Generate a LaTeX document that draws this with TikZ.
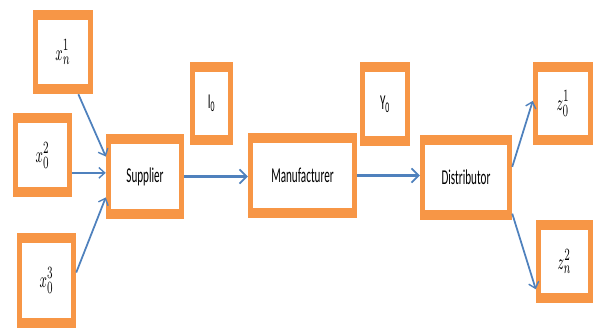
\documentclass[tikz,border=0pt]{standalone}
\usepackage{fontspec}
\setmainfont{Carlito}
\usetikzlibrary{arrows.meta}

\definecolor{boxorange}{RGB}{247,150,70}
\definecolor{arrowblue}{RGB}{79,129,189}

\newcommand{\tall}[1]{\scalebox{1}[1.9]{#1}}
\newcommand{\tallmath}[1]{\scalebox{1.2}[2.1]{#1}}

\tikzset{
  chainbox/.style={fill=boxorange, inner sep=0pt,
    font=\fontsize{9.5}{11}\selectfont,
    path picture={\fill[white] ([shift={(0.15cm,0.3cm)}]path picture bounding box.south west)
      rectangle ([shift={(-0.15cm,-0.3cm)}]path picture bounding box.north east);}},
  flow/.style={draw=arrowblue, line width=2.5pt, -{Straight Barb[length=6pt,width=12pt,line width=1.5pt]}},
  thinflow/.style={draw=arrowblue, line width=1.5pt, -{Straight Barb[length=5pt,width=9pt,line width=1.2pt]}}
}

\begin{document}
\begin{tikzpicture}[x=0.03cm,y=-0.03cm]

\useasboundingbox (0,0) rectangle (593,329);

\node[chainbox, minimum width=60*0.03cm, minimum height=84*0.03cm] (x1) at (63,52) {\tallmath{$x_n^1$}};
\node[chainbox, minimum width=59*0.03cm, minimum height=84*0.03cm] (x2) at (42.5,155) {\tallmath{$x_0^2$}};
\node[chainbox, minimum width=59*0.03cm, minimum height=95*0.03cm] (x3) at (46.5,280.5) {\tallmath{$x_0^3$}};

\node[chainbox, minimum width=78*0.03cm, minimum height=85*0.03cm] (sup) at (145,176.5) {\tall{Supplier}};
\node[chainbox, minimum width=43*0.03cm, minimum height=83*0.03cm] (io) at (211.5,103.5) {\tall{I\textsubscript{0}}};
\node[chainbox, minimum width=109*0.03cm, minimum height=85*0.03cm] (man) at (302.5,175.5) {\tall{Manufacturer}};
\node[chainbox, minimum width=50*0.03cm, minimum height=84*0.03cm] (yo) at (385,104) {\tall{Y\textsubscript{0}}};
\node[chainbox, minimum width=92*0.03cm, minimum height=85*0.03cm] (dis) at (466,177.5) {\tall{Distributor}};

\node[chainbox, minimum width=60*0.03cm, minimum height=83*0.03cm] (z1) at (563,103.5) {\tallmath{$z_0^1$}};
\node[chainbox, minimum width=57*0.03cm, minimum height=83*0.03cm] (z2) at (564.5,261.5) {\tallmath{$z_n^2$}};

\draw[thinflow] (x1.-70) -- (sup.153);
\draw[thinflow] (x2.-31) -- (x2.-31 -| sup.west);
\draw[thinflow] (x3.15) -- (sup.208);

\draw[flow] (sup.east) -- (sup.east -| man.west);
\draw[flow] (man.east) -- (man.east -| dis.west);

\draw[thinflow] (dis.13) -- (z1.175);
\draw[thinflow] (dis.-38) -- (z2.224);

\end{tikzpicture}
\end{document}
